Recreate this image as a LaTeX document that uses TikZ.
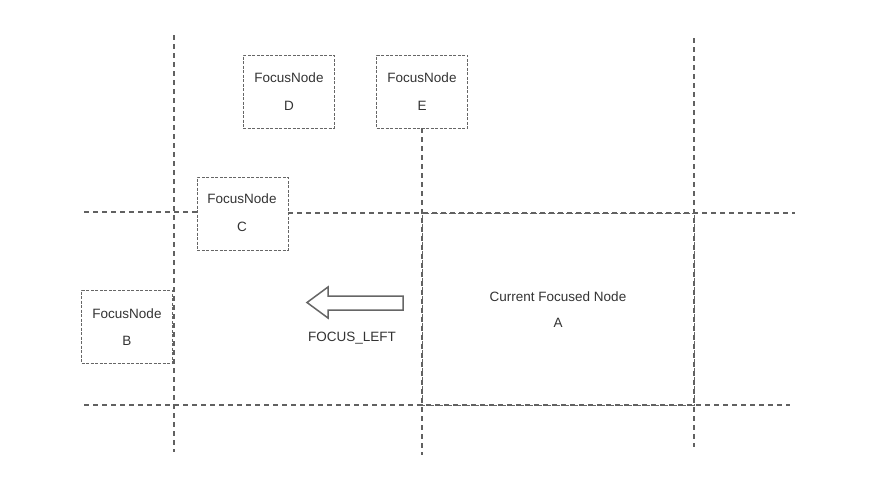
\documentclass[tikz,border=0pt]{standalone}
\usepackage{fontspec}
\setmainfont{Liberation Sans}
\begin{document}
\begin{tikzpicture}[x=1pt,y=-1pt,
  gridline/.style={draw=black!62, line width=1.7pt, dash pattern=on 5pt off 4pt},
  fbox/.style={draw=black!60, line width=0.9pt, dash pattern=on 3pt off 1.5pt, minimum width=91pt, minimum height=73pt, inner sep=0pt},
  arrowshape/.style={draw=black!60, line width=1.5pt, fill=white, line join=miter}]
\useasboundingbox (0,0) rectangle (884,491);
% boxes
\node[fbox, minimum width=272pt, minimum height=192pt] (A) at (558,309) {};
\node[fbox] (D) at (288.5,91.5) {};
\node[fbox] (E) at (422,91.5) {};
\node[fbox] (C) at (242.5,213.5) {};
\node[fbox] (B) at (127,326.5) {};
% texts
\begin{scope}[every node/.style={font=\fontsize{13.5}{16}\selectfont, text=black!80, inner sep=0pt}]
\node (Dt1) at (289,78) {FocusNode};
\node (Dt2) at (289,106) {D};
\node (Et1) at (422,78) {FocusNode};
\node (Et2) at (422,106) {E};
\node (Ct1) at (242,199) {FocusNode};
\node (Ct2) at (242,227) {C};
\node (Bt1) at (127,314) {FocusNode};
\node (Bt2) at (127,341) {B};
\node (At1) at (558,297) {Current Focused Node};
\node (At2) at (558,323) {A};
\node (lbl) at (352,338) {FOCUS\_LEFT};
\end{scope}
% grid lines
\coordinate (v1t) at (174,35); \coordinate (v1b) at (174,452);
\coordinate (v2t) at (694,38); \coordinate (v2b) at (694,447);
\coordinate (v3b) at (422,455);
\coordinate (h1l) at (84,212); \coordinate (h1r) at (795,213);
\coordinate (h2l) at (84,405); \coordinate (h2r) at (790,405);
\draw[gridline] (v1t) -- (v1b);
\draw[gridline] (v2t) -- (v2b);
\draw[gridline] (E.south) -- (v3b);
\draw[gridline] (h1l) -- (C.west |- h1l);
\draw[gridline] (C.east |- h1r) -- (h1r);
\draw[gridline] (h2l) -- (h2r);
% arrow
\draw[arrowshape] (403,296) -- (328,296) -- (328,287) -- (307,302.5) -- (328,318) -- (328,310) -- (403,310) -- cycle;
\end{tikzpicture}
\end{document}
